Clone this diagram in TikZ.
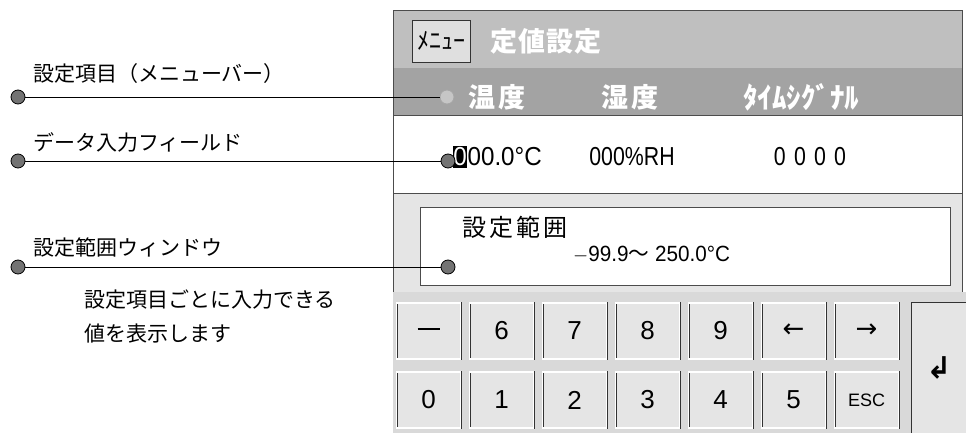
\documentclass[tikz,border=0pt]{standalone}
\usepackage{fontspec}
\setmainfont{Liberation Sans}
\newfontfamily\jp{Noto Sans CJK JP}
\newfontfamily\sym{DejaVu Sans}
\usetikzlibrary{positioning}

\newcommand{\narrow}[2][0.82]{\scalebox{#1}[1]{#2}}

\begin{document}
\begin{tikzpicture}[x=1pt,y=-1pt,
        every node/.style={inner sep=0pt},
        lbl/.style={anchor=west, font=\jp\fontsize{21}{24}\selectfont},
        calldot/.style={circle, draw=black, line width=0.8pt, fill=black!55, minimum size=14pt},
        key/.style={draw=black!80, fill=gray!20, double=white, double distance=1.2pt,
            minimum width=64pt, minimum height=56pt, font=\fontsize{26}{28}\selectfont},
        tab/.style={text=white, font=\jp\fontsize{27}{30}\selectfont\bfseries},
        val/.style={font=\fontsize{26}{28}\selectfont}
    ]
    \clip (0,0) rectangle (966,433);
    \fill[white] (0,0) rectangle (966,433);

    % screen
    \fill[gray!50] (393,10) rectangle (962,68);
    \fill[gray!72] (393,68) rectangle (962,115);
    \draw[black!70] (393,10) rectangle (962,115);
    \draw[black!70, fill=white] (393,115) rectangle (962,193);
    \draw[black!70, fill=gray!20] (393,193) rectangle (962,292);
    \draw[black!70, fill=white] (420,207) rectangle (950,285);
    \fill[gray!30] (393,292) rectangle (966,433);

    % title bar and tabs
    \node[draw=black!80, fill=gray!25, minimum width=58pt, minimum height=42pt,
        font=\jp\fontsize{24}{26}\selectfont] (menu) at (441,41) {ﾒﾆｭｰ};
    \node[tab, anchor=west, right=20pt of menu] (title) {定\hspace{1pt}値\hspace{1pt}設\hspace{1pt}定};
    \node[tab] (temp) at (497,97) {温\hspace{3pt}度};
    \node[tab] (humid) at (630,97) {湿\hspace{3pt}度};
    \node[tab, font=\jp\fontsize{29}{31}\selectfont\bfseries] (timesig) at (801,97) {ﾀｲﾑｼｸﾞﾅﾙ};

    % data field
    \node[val, fill=black, text=white, inner xsep=0.5pt, inner ysep=2pt] (cursor) at (460,157)
        {\narrow[0.93]{0}};
    \node[val, anchor=west, right=0pt of cursor] (tval) {\narrow[0.93]{00.0°C}};
    \node[val] (hval) at (632,157) {\narrow{000\%RH}};
    \node[val] (sval) at (810,157) {\narrow{0\hspace{10pt}0\hspace{10pt}0\hspace{10pt}0}};

    % range window
    \node[anchor=west, font=\jp\fontsize{24}{26}\selectfont] (range) at (462,227)
        {設\hspace{3pt}定\hspace{3pt}範\hspace{3pt}囲};
    \node[anchor=west, font=\fontsize{22}{24}\selectfont] (rval) at (573,255)
        {\narrow[0.94]{$-$99.9{\jp 〜} 250.0°C}};

    % keypad
    \foreach \t [count=\i from 0] in {\rule[0.3ex]{22pt}{1.5pt},6,7,8,9,{\sym ←},{\sym →}}
        \node[key] (ka\i) at (428.5+73*\i,331) {\t};
    \foreach \t [count=\i from 0] in {0,1,2,3,4,5,{\fontsize{18}{20}\selectfont ESC}}
        \node[key] (kb\i) at (428.5+73*\i,400) {\t};
    \node[draw=black!80, fill=gray!20, minimum width=60pt, minimum height=136pt,
        anchor=north west] (enter) at (911,302) {};
    \node[font=\sym\fontsize{30}{32}\selectfont\bfseries] (entersym) at (939,368) {↲};

    % callouts
    \node[calldot] (d1) at (18,97) {};
    \node[calldot] (d2) at (18,161) {};
    \node[calldot] (d3) at (18,267) {};
    \node[calldot, fill=gray!45, draw=gray!70] (e1) at (447,97) {};
    \node[calldot] (e2) at (448,161) {};
    \node[calldot] (e3) at (448,267) {};
    \draw[line width=0.7pt] (d1) -- (e1);
    \draw[line width=0.7pt] (d2) -- (e2);
    \draw[line width=0.7pt] (d3) -- (e3);

    \node[lbl] (menubar) at (33,74) {設定項目（メニューバー）};
    \node[lbl] (field) at (33,142) {データ入力フィールド};
    \node[lbl] (window) at (33,248) {設定範囲ウィンドウ};
    \node[lbl] (desc1) at (84,300) {設定項目ごとに入力できる};
    \node[lbl, below=14pt of desc1.south west, anchor=north west] (desc2) {値を表示します};
\end{tikzpicture}
\end{document}
